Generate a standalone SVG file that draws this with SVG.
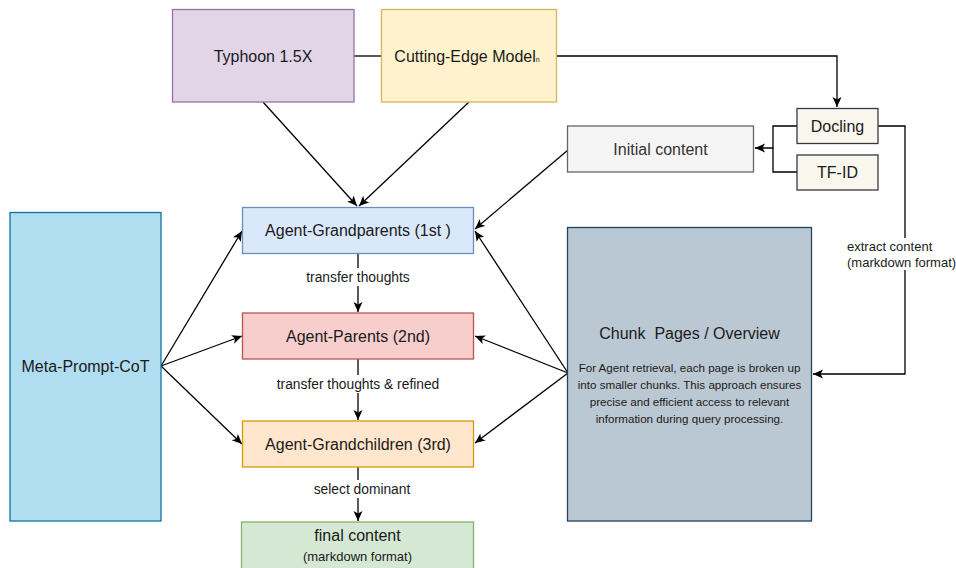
<svg xmlns="http://www.w3.org/2000/svg" width="956" height="568" viewBox="0 0 956 568">
<style>
text{font-family:"Liberation Sans",Arial,sans-serif;fill:#1a1a1a;text-anchor:middle}
.n{font-size:16px}
.lbl{font-size:13.8px}
.sm{font-size:13px}
.left{text-anchor:start}
.body{font-size:11.6px}
.e{fill:none;stroke:#000;stroke-width:1.3}
.bg{fill:#fff}
</style>
<defs>
<marker id="ah" markerUnits="userSpaceOnUse" markerWidth="12" markerHeight="10" refX="10" refY="4.5" orient="auto">
<path d="M0,0 L10,4.5 L0,9 L2.5,4.5 Z" fill="#000"/>
</marker>
</defs>
<rect width="956" height="568" fill="#fff"/>

<g id="connectors">
<path class="e" d="M354,56 L381,56"/>
<path class="e" d="M556,56 L837,56 L837,107" marker-end="url(#ah)"/>
<path class="e" d="M797,126 L773,126 L773,148 L755,148" marker-end="url(#ah)"/>
<path class="e" d="M797,172 L773,172 L773,148"/>
<path class="e" d="M878,126 L905,126 L905,374 L813,374" marker-end="url(#ah)"/>
<path class="e" d="M263,102 L357,206" marker-end="url(#ah)"/>
<path class="e" d="M469,102 L359,206" marker-end="url(#ah)"/>
<path class="e" d="M568,150 L475,229" marker-end="url(#ah)"/>
<path class="e" d="M568,373 L475,231" marker-end="url(#ah)"/>
<path class="e" d="M568,373 L475,336" marker-end="url(#ah)"/>
<path class="e" d="M568,373 L475,443" marker-end="url(#ah)"/>
<path class="e" d="M161,366 L242,231" marker-end="url(#ah)"/>
<path class="e" d="M161,366 L242,336" marker-end="url(#ah)"/>
<path class="e" d="M161,366 L242,444" marker-end="url(#ah)"/>
<path class="e" d="M358,253 L358,312" marker-end="url(#ah)"/>
<path class="e" d="M358,359 L358,420" marker-end="url(#ah)"/>
<path class="e" d="M358,467 L358,521" marker-end="url(#ah)"/>
<rect class="bg" x="302" y="268" width="112" height="18"/>
<text class="lbl" x="358" y="282">transfer thoughts</text>
<rect class="bg" x="274" y="375" width="168" height="18"/>
<text class="lbl" x="358" y="389">transfer thoughts &amp; refined</text>
<rect class="bg" x="311" y="480" width="104" height="18"/>
<text class="lbl" x="362" y="494">select dominant</text>
<rect class="bg" x="846" y="238" width="109" height="32"/>
<text class="sm left" x="847" y="251">extract content</text>
<text class="sm left" x="847" y="267">(markdown format)</text>
</g>

<g id="typhoon">
<rect x="172.5" y="9.5" width="181.5" height="92.5" fill="#e1d5e7" stroke="#9673a6" stroke-width="1.3"/>
<text class="n" x="263" y="61.5">Typhoon 1.5X</text>
</g>
<g id="cutting-edge">
<rect x="381.5" y="9.5" width="175" height="92.5" fill="#fff2cc" stroke="#d6b656" stroke-width="1.3"/>
<text class="n" x="467" y="61.5">Cutting-Edge Model<tspan font-size="7">n</tspan></text>
</g>
<g id="docling">
<rect x="797" y="108.5" width="81" height="35" fill="#f9f7ed" stroke="#36393d" stroke-width="1.3"/>
<text class="n" x="837.5" y="131.5">Docling</text>
</g>
<g id="tfid">
<rect x="797" y="155" width="81" height="35" fill="#f9f7ed" stroke="#36393d" stroke-width="1.3"/>
<text class="n" x="837.5" y="178">TF-ID</text>
</g>
<g id="initial-content">
<rect x="567.5" y="126" width="186" height="46" fill="#f5f5f5" stroke="#666666" stroke-width="1.3"/>
<text class="n" x="660.5" y="154.5" style="fill:#333333">Initial content</text>
</g>
<g id="meta-prompt">
<rect x="10" y="212.5" width="151" height="308.5" fill="#b1ddf0" stroke="#10739e" stroke-width="1.3"/>
<text class="n" x="85.5" y="371.5">Meta-Prompt-CoT</text>
</g>
<g id="grandparents">
<rect x="242.5" y="207.5" width="231" height="46" fill="#dae8fc" stroke="#6c8ebf" stroke-width="1.3"/>
<text class="n" x="358" y="235.5">Agent-Grandparents (1st )</text>
</g>
<g id="parents">
<rect x="242.5" y="313" width="231" height="46" fill="#f8cecc" stroke="#b85450" stroke-width="1.3"/>
<text class="n" x="358" y="341.5">Agent-Parents (2nd)</text>
</g>
<g id="grandchildren">
<rect x="242.5" y="421" width="231" height="46" fill="#ffe6cc" stroke="#d79b00" stroke-width="1.3"/>
<text class="n" x="358" y="449.5">Agent-Grandchildren (3rd)</text>
</g>
<g id="final-content">
<rect x="241.5" y="522" width="232" height="60" fill="#d5e8d4" stroke="#82b366" stroke-width="1.3"/>
<text class="n" x="357.5" y="541">final content</text>
<text class="sm" x="357.5" y="561">(markdown format)</text>
</g>
<g id="chunk-pages">
<rect x="567.5" y="227.5" width="244" height="293.5" fill="#bac8d3" stroke="#23445d" stroke-width="1.3"/>
<text class="n" x="689.5" y="338.5" xml:space="preserve">Chunk  Pages / Overview</text>
<text class="body" x="689.5" y="372">For Agent retrieval, each page is broken up</text>
<text class="body" x="689.5" y="389">into smaller chunks. This approach ensures</text>
<text class="body" x="689.5" y="406">precise and efficient access to relevant</text>
<text class="body" x="689.5" y="423">information during query processing.</text>
</g>
</svg>
